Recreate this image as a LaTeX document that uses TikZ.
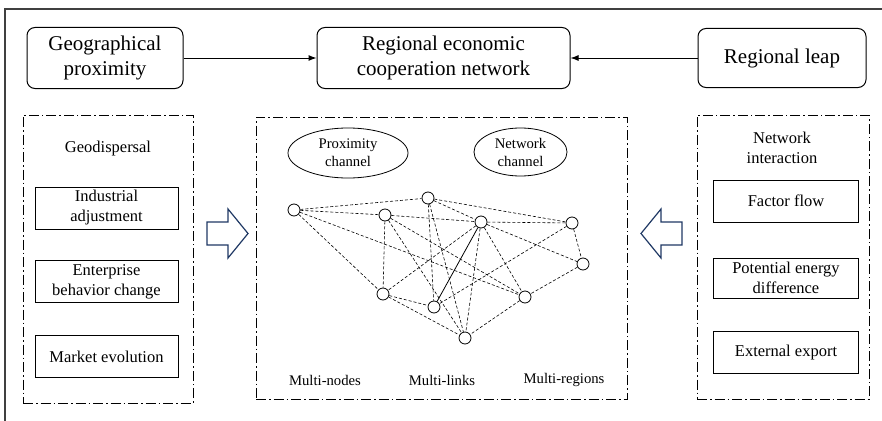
\documentclass[tikz,border=0pt]{standalone}
\usepackage{fontspec}
\setmainfont{Liberation Serif}
\usetikzlibrary{shapes.geometric,arrows.meta}
\definecolor{arrowblue}{RGB}{31,56,100}
\definecolor{framegray}{RGB}{64,64,64}

\begin{document}
\begin{tikzpicture}[x=1pt, y=-1pt, >={Latex[length=8pt,width=6pt]},
    topbox/.style={draw, rounded corners=8pt, line width=1pt, inner sep=0pt,
      align=center, font=\fontsize{21}{25}\selectfont},
    panel/.style={draw, line width=0.8pt, inner sep=0pt,
      dash pattern=on 10pt off 3pt on 1.5pt off 3pt},
    itembox/.style={draw, line width=1pt, inner sep=0pt, minimum height=42pt,
      align=center, font=\fontsize{16.5}{20}\selectfont},
    label/.style={align=center, font=\fontsize{16.5}{20}\selectfont},
    chan/.style={draw, ellipse, line width=0.8pt, inner sep=0pt, align=center,
      font=\fontsize{14.7}{18}\selectfont},
    hub/.style={draw, circle, fill=white, line width=0.8pt, inner sep=0pt,
      minimum size=12pt},
    link/.style={line width=0.6pt, dash pattern=on 3pt off 2pt},
    bigarrow/.style={draw=arrowblue, line width=1.2pt, line join=miter}]
    \useasboundingbox (0,0) rectangle (882,420);
    \draw[framegray, line width=1.5pt] (5,430) -- (5,9) -- (890,9);

    \node[topbox, minimum width=156pt, minimum height=61pt] (geo) at (105,58)
      {Geographical\\proximity};
    \node[topbox, minimum width=253pt, minimum height=61pt] (net) at (443.5,58)
      {Regional economic\\cooperation network};
    \node[topbox, minimum width=168pt, minimum height=59pt] (leap) at (782,58)
      {Regional leap};
    \draw[->, line width=1pt] (geo) -- (net);
    \draw[->, line width=1pt] (leap) -- (net);

    \node[panel, minimum width=170pt, minimum height=288pt] (geodisp) at (108,259) {};
    \node[panel, minimum width=371pt, minimum height=282pt] (channels) at (441.5,258) {};
    \node[panel, minimum width=172pt, minimum height=284pt] (interact) at (783,257) {};

    \node[label] (geot) at (108,149) {Geodispersal};
    \node[itembox, minimum width=143pt] (ind) at (106.5,208) {Industrial\\adjustment};
    \node[itembox, minimum width=143pt] (ent) at (106.5,281.5) {Enterprise\\behavior change};
    \node[itembox, minimum width=143pt] (mkt) at (106.5,356.5) {Market evolution};

    \node[label] (intt) at (782,148) {Network\\interaction};
    \node[itembox, minimum width=145pt] (flow) at (786,201) {Factor flow};
    \node[itembox, minimum width=145pt, minimum height=40pt] (pot) at (786,278)
      {Potential energy\\difference};
    \node[itembox, minimum width=145pt] (exp) at (786,352.5) {External export};

    \draw[bigarrow] (207,222) -- (228,222) -- (228,209) -- (248,233.5)
      -- (228,258) -- (228,245) -- (207,245) -- cycle;
    \draw[bigarrow] (682,222) -- (661,222) -- (661,209) -- (641,233.5)
      -- (661,258) -- (661,245) -- (682,245) -- cycle;

    \node[chan, minimum width=120pt, minimum height=50pt] (prox) at (348,153)
      {Proximity\\channel};
    \node[chan, minimum width=93pt, minimum height=48pt] (netch) at (520.5,152)
      {Network\\channel};

    \foreach \i/\x/\y in {1/294/210, 2/385/215, 3/428/198, 4/481/222, 5/572/223,
        6/583/264, 7/383/294, 8/434/307, 9/525/297, 10/465/338}
      \node[hub] (N\i) at (\x,\y) {};
    \foreach \a/\b in {1/2, 1/3, 1/7, 1/9, 2/4, 2/7, 2/9, 2/10, 3/4, 3/5, 3/8,
        3/10, 4/5, 4/6, 4/7, 4/9, 4/10, 5/6, 5/8, 6/9, 7/8, 7/10, 9/10}
      \draw[link] (N\a) -- (N\b);
    \draw[line width=0.8pt] (N4) -- (N8);

    \node[chan, draw=none] (mnodes) at (325,380) {Multi-nodes};
    \node[chan, draw=none] (mlinks) at (442,380) {Multi-links};
    \node[chan, draw=none] (mregions) at (564,380) {Multi-regions};
  \end{tikzpicture}
\end{document}
